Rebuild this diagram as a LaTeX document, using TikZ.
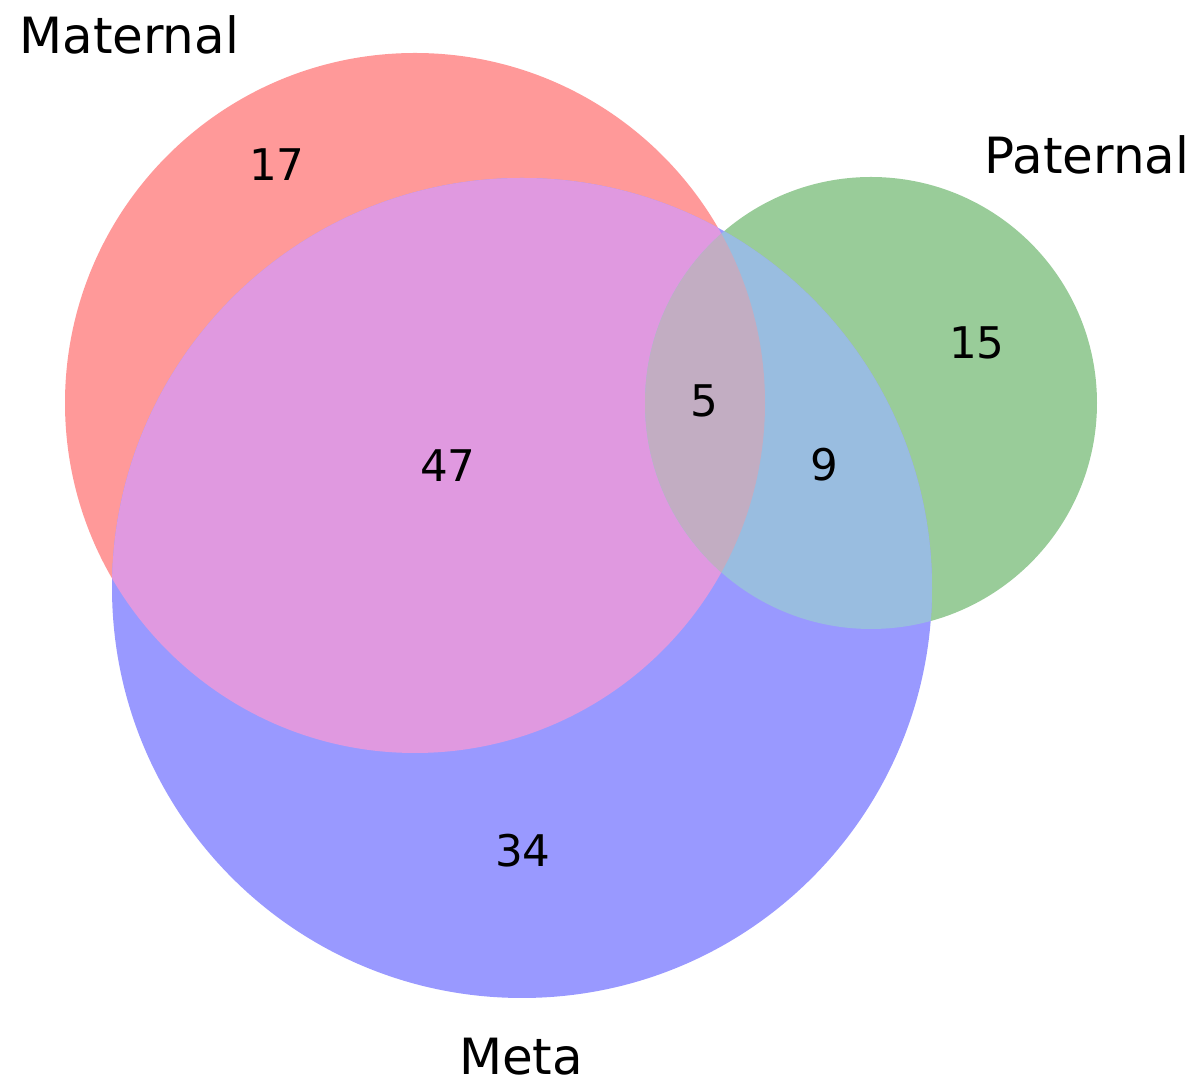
\documentclass[tikz,border=0pt]{standalone}
\usepackage{fontspec}
\setmainfont{DejaVu Sans}
\definecolor{matonly}{RGB}{255,153,153}
\definecolor{patonly}{RGB}{153,204,153}
\definecolor{metaonly}{RGB}{153,153,255}
\definecolor{matpat}{RGB}{224,189,153}
\definecolor{matmeta}{RGB}{224,153,224}
\definecolor{patmeta}{RGB}{153,189,224}
\definecolor{allthree}{RGB}{194,173,194}
\tikzset{setlabel/.style={font=\fontsize{14.2}{17}\selectfont, inner sep=0pt, anchor=base}}
\tikzset{count/.style={font=\fontsize{12.4}{15}\selectfont, inner sep=0pt}}

\begin{document}
\begin{tikzpicture}[x=0.01cm,y=-0.01cm]
  \useasboundingbox (0,0) rectangle (1199,1083);
  \def\matcirc{(415,403) circle[radius=350]}
  \def\patcirc{(871,403) circle[radius=226]}
  \def\metacirc{(522,588) circle[radius=410]}
  % single sets
  \fill[matonly] \matcirc;
  \fill[patonly] \patcirc;
  \fill[metaonly] \metacirc;
  % overlaps
  \begin{scope}
    \clip \matcirc;
    \fill[matpat] \patcirc;
    \fill[matmeta] \metacirc;
  \end{scope}
  \begin{scope}
    \clip \patcirc;
    \fill[patmeta] \metacirc;
  \end{scope}
  \begin{scope}
    \clip \matcirc;
    \clip \patcirc;
    \fill[allthree] \metacirc;
  \end{scope}
  % set names
  \node[setlabel] (maternal) at (129.2,53.5) {Maternal};
  \node[setlabel] (paternal) at (1087,173.5) {Paternal};
  \node[setlabel] (meta) at (521,1075) {Meta};
  % subset sizes
  \node[count] (nmat) at (277,165) {17};
  \node[count] (npat) at (977,343) {15};
  \node[count] (nall) at (704,401) {5};
  \node[count] (nmatmeta) at (448,466) {47};
  \node[count] (npatmeta) at (824,465) {9};
  \node[count] (nmeta) at (523,851) {34};
\end{tikzpicture}
\end{document}
